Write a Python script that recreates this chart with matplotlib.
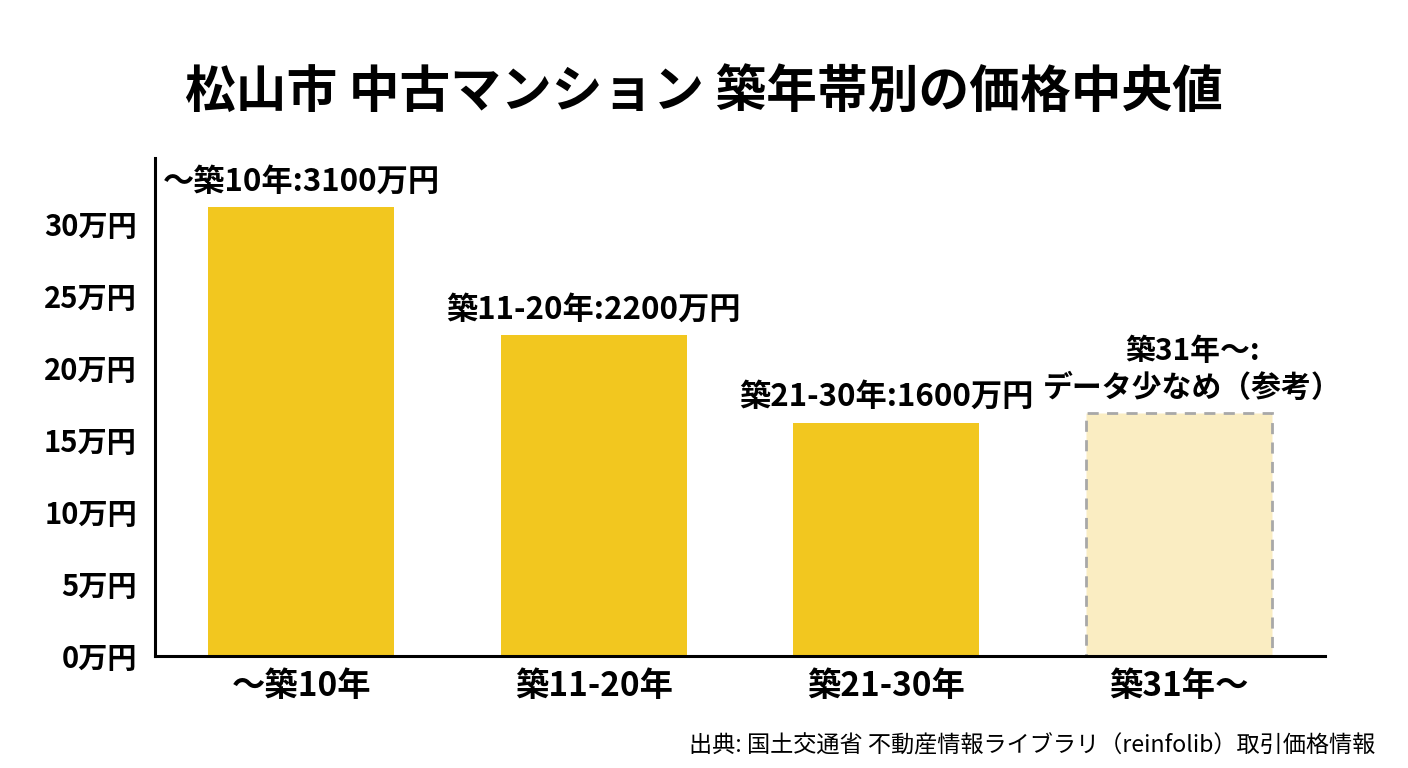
import matplotlib

matplotlib.use("Agg")
import matplotlib.pyplot as plt
import numpy as np

plt.rcParams["font.family"] = ["Noto Sans CJK JP", "DejaVu Sans"]

# 築年帯別の価格中央値（軸目盛の単位は画像のまま）
categories = ["〜築10年", "築11-20年", "築21-30年", "築31年〜"]
values = [31.2, 22.3, 16.2, 16.9]
bar_labels = [
    "〜築10年:3100万円",
    "築11-20年:2200万円",
    "築21-30年:1600万円",
    "築31年〜:\nデータ少なめ（参考）",
]
reference_only = [False, False, False, True]
yticks = [0, 5, 10, 15, 20, 25, 30]
ytick_labels = [f"{v}万円" for v in yticks]

MAIN = "#F2C71F"
LIGHT = "#FAEDC2"

fig = plt.figure(figsize=(14.08, 7.68), dpi=100)
ax = fig.add_axes([0.110, 0.146, 0.831, 0.648])

x = np.arange(len(categories))
for xi, val, ref in zip(x, values, reference_only):
    if ref:
        ax.bar(xi, val, width=0.635, color=LIGHT, edgecolor="#A8A8A8",
               linewidth=2.0, linestyle=(0, (4, 3)), zorder=2)
    else:
        ax.bar(xi, val, width=0.635, color=MAIN, zorder=2)

for xi, val, lab, ref in zip(x, values, bar_labels, reference_only):
    # the two-line note sits a little to the right so it clears the neighbour
    ax.annotate(lab, (xi, val), xytext=(10 if ref else 0, 7), textcoords="offset points",
                ha="center", va="bottom", fontsize=21.5 if ref else 22.5,
                fontweight="bold", linespacing=1.3)

ax.set_xlim(-0.5, 3.5)
ax.set_ylim(0, 34.6)
ax.set_xticks(x, categories)
ax.set_yticks(yticks, ytick_labels)
ax.tick_params(axis="x", length=0, pad=10, labelsize=24)
ax.tick_params(axis="y", length=0, pad=13, labelsize=21)
for lbl in ax.get_xticklabels() + ax.get_yticklabels():
    lbl.set_fontweight("bold")

for side in ("top", "right"):
    ax.spines[side].set_visible(False)
ax.spines["left"].set_linewidth(2.2)
ax.spines["bottom"].set_linewidth(2.2)

fig.text(0.5, 0.88, "松山市 中古マンション 築年帯別の価格中央値", ha="center", va="center",
         fontsize=36.5, fontweight="bold")
fig.text(0.977, 0.029, "出典: 国土交通省 不動産情報ライブラリ（reinfolib）取引価格情報",
         ha="right", va="center", fontsize=16.7)

fig.savefig("out.png", dpi=100, facecolor="white")
